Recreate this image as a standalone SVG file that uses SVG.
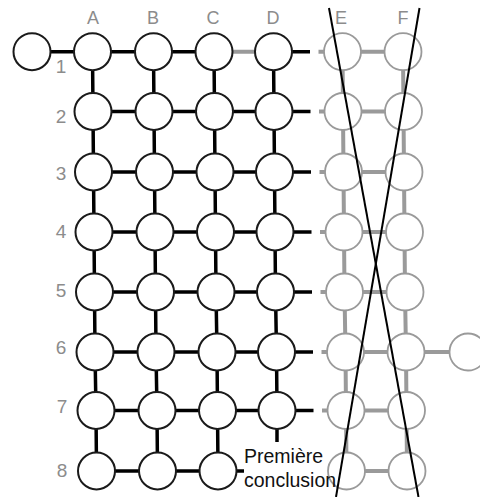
<svg xmlns="http://www.w3.org/2000/svg" width="480" height="497" viewBox="0 0 480 497">
  <style>
    .lbl { font-family: "Liberation Sans", Arial, sans-serif; fill: #8c8c8c; text-anchor: middle; }
    .col { font-size: 18px; }
    .row { font-size: 19px; }
    .note { font-family: "Liberation Sans", Arial, sans-serif; font-size: 19.5px; fill: #111; }
    .nb circle { fill: #fff; stroke: #1a1a1a; stroke-width: 2; }
    .ng circle { fill: #fff; stroke: #9a9a9a; stroke-width: 1.8; }
    .cb { stroke: #000; stroke-width: 3.5; fill: none; }
    .cg { stroke: #9a9a9a; stroke-width: 4; fill: none; }
    .x { stroke: #000; stroke-width: 2; }
  </style>

  <!-- column and row labels -->
  <g id="labels">
    <text class="lbl col" x="93" y="24">A</text>
    <text class="lbl col" x="153" y="24">B</text>
    <text class="lbl col" x="213" y="24">C</text>
    <text class="lbl col" x="273" y="24">D</text>
    <text class="lbl col" x="341" y="24">E</text>
    <text class="lbl col" x="403" y="24">F</text>
    <text class="lbl row" x="61" y="73">1</text>
    <text class="lbl row" x="61" y="122.5">2</text>
    <text class="lbl row" x="61" y="180">3</text>
    <text class="lbl row" x="61" y="238">4</text>
    <text class="lbl row" x="61" y="297">5</text>
    <text class="lbl row" x="61" y="354">6</text>
    <text class="lbl row" x="62" y="413">7</text>
    <text class="lbl row" x="62" y="476.5">8</text>
  </g>

  <!-- connectors -->
  <g id="connectors">
    <!-- row 1 -->
    <line class="cb" x1="32" y1="51.7" x2="92.5" y2="51.7"/>
    <line class="cb" x1="92.5" y1="51.7" x2="214" y2="51.7"/>
    <line class="cg" x1="214" y1="51.7" x2="273.5" y2="51.7"/>
    <line class="cb" x1="273.5" y1="51.7" x2="310" y2="51.7"/>
    <line class="cg" x1="318.5" y1="51.7" x2="403" y2="51.7"/>
    <!-- rows 2..7 horizontals -->
    <line class="cb" x1="93" y1="111.5" x2="310.5" y2="111.5"/>
    <line class="cg" x1="319" y1="111.5" x2="403.5" y2="111.5"/>
    <line class="cb" x1="93.5" y1="172" x2="311" y2="172"/>
    <line class="cg" x1="319.5" y1="172" x2="404" y2="172"/>
    <line class="cb" x1="94" y1="232" x2="311.5" y2="232"/>
    <line class="cg" x1="320" y1="232" x2="404.5" y2="232"/>
    <line class="cb" x1="94.5" y1="292" x2="312" y2="292"/>
    <line class="cg" x1="320.5" y1="292" x2="405" y2="292"/>
    <line class="cb" x1="95" y1="352" x2="313" y2="352"/>
    <line class="cg" x1="321.5" y1="352" x2="468" y2="352"/>
    <line class="cb" x1="96" y1="410.5" x2="313.5" y2="410.5"/>
    <line class="cg" x1="322" y1="410.5" x2="406.5" y2="410.5"/>
    <!-- row 8 -->
    <line class="cb" x1="96.5" y1="471" x2="244" y2="471"/>
    <line class="cg" x1="346.5" y1="471" x2="407" y2="471"/>

    <!-- verticals, columns A..D -->
    <polyline class="cb" points="92.5,51.7 93,111.5 93.5,172 94,232 94.5,292 95,352 96,410.5 96.5,471"/>
    <polyline class="cb" points="153.5,51.7 154,111.5 154.5,172 155,232 155.5,292 156,352 157,410.5 157.5,471"/>
    <polyline class="cb" points="214,51.7 214.5,111.5 215,172 215.5,232 216,292 217,352 217.5,410.5 218,471"/>
    <polyline class="cb" points="273.5,51.7 274,111.5 274.5,172 275,232 275.5,292 276.5,352 277,410.5 277,442"/>
    <!-- verticals, columns E..F -->
    <polyline class="cg" points="342.5,51.7 343,111.5 343.5,172 344,232 344.5,292 345.5,352 346,410.5 346.5,471"/>
    <polyline class="cg" points="403,51.7 403.5,111.5 404,172 404.5,232 405,292 406,352 406.5,410.5 407,471"/>
  </g>

  <!-- nodes -->
  <g id="n-start" class="nb"><circle cx="32" cy="51.7" r="18.5"/></g>

  <g id="n-A1" class="nb"><circle cx="92.5" cy="51.7" r="18.5"/></g>
  <g id="n-B1" class="nb"><circle cx="153.5" cy="51.7" r="18.5"/></g>
  <g id="n-C1" class="nb"><circle cx="214" cy="51.7" r="18.5"/></g>
  <g id="n-D1" class="nb"><circle cx="273.5" cy="51.7" r="18.5"/></g>
  <g id="n-E1" class="ng"><circle cx="342.5" cy="51.7" r="18.5"/></g>
  <g id="n-F1" class="ng"><circle cx="403" cy="51.7" r="18.5"/></g>

  <g id="n-A2" class="nb"><circle cx="93" cy="111.5" r="18.5"/></g>
  <g id="n-B2" class="nb"><circle cx="154" cy="111.5" r="18.5"/></g>
  <g id="n-C2" class="nb"><circle cx="214.5" cy="111.5" r="18.5"/></g>
  <g id="n-D2" class="nb"><circle cx="274" cy="111.5" r="18.5"/></g>
  <g id="n-E2" class="ng"><circle cx="343" cy="111.5" r="18.5"/></g>
  <g id="n-F2" class="ng"><circle cx="403.5" cy="111.5" r="18.5"/></g>

  <g id="n-A3" class="nb"><circle cx="93.5" cy="172" r="18.5"/></g>
  <g id="n-B3" class="nb"><circle cx="154.5" cy="172" r="18.5"/></g>
  <g id="n-C3" class="nb"><circle cx="215" cy="172" r="18.5"/></g>
  <g id="n-D3" class="nb"><circle cx="274.5" cy="172" r="18.5"/></g>
  <g id="n-E3" class="ng"><circle cx="343.5" cy="172" r="18.5"/></g>
  <g id="n-F3" class="ng"><circle cx="404" cy="172" r="18.5"/></g>

  <g id="n-A4" class="nb"><circle cx="94" cy="232" r="18.5"/></g>
  <g id="n-B4" class="nb"><circle cx="155" cy="232" r="18.5"/></g>
  <g id="n-C4" class="nb"><circle cx="215.5" cy="232" r="18.5"/></g>
  <g id="n-D4" class="nb"><circle cx="275" cy="232" r="18.5"/></g>
  <g id="n-E4" class="ng"><circle cx="344" cy="232" r="18.5"/></g>
  <g id="n-F4" class="ng"><circle cx="404.5" cy="232" r="18.5"/></g>

  <g id="n-A5" class="nb"><circle cx="94.5" cy="292" r="18.5"/></g>
  <g id="n-B5" class="nb"><circle cx="155.5" cy="292" r="18.5"/></g>
  <g id="n-C5" class="nb"><circle cx="216" cy="292" r="18.5"/></g>
  <g id="n-D5" class="nb"><circle cx="275.5" cy="292" r="18.5"/></g>
  <g id="n-E5" class="ng"><circle cx="344.5" cy="292" r="18.5"/></g>
  <g id="n-F5" class="ng"><circle cx="405" cy="292" r="18.5"/></g>

  <g id="n-A6" class="nb"><circle cx="95" cy="352" r="18.5"/></g>
  <g id="n-B6" class="nb"><circle cx="156" cy="352" r="18.5"/></g>
  <g id="n-C6" class="nb"><circle cx="217" cy="352" r="18.5"/></g>
  <g id="n-D6" class="nb"><circle cx="276.5" cy="352" r="18.5"/></g>
  <g id="n-E6" class="ng"><circle cx="345.5" cy="352" r="18.5"/></g>
  <g id="n-F6" class="ng"><circle cx="406" cy="352" r="18.5"/></g>
  <g id="n-exit" class="ng"><circle cx="468" cy="352" r="18.5"/></g>

  <g id="n-A7" class="nb"><circle cx="96" cy="410.5" r="18.5"/></g>
  <g id="n-B7" class="nb"><circle cx="157" cy="410.5" r="18.5"/></g>
  <g id="n-C7" class="nb"><circle cx="217.5" cy="410.5" r="18.5"/></g>
  <g id="n-D7" class="nb"><circle cx="277" cy="410.5" r="18.5"/></g>
  <g id="n-E7" class="ng"><circle cx="346" cy="410.5" r="18.5"/></g>
  <g id="n-F7" class="ng"><circle cx="406.5" cy="410.5" r="18.5"/></g>

  <g id="n-A8" class="nb"><circle cx="96.5" cy="471" r="18.5"/></g>
  <g id="n-B8" class="nb"><circle cx="157.5" cy="471" r="18.5"/></g>
  <g id="n-C8" class="nb"><circle cx="218" cy="471" r="18.5"/></g>
  <g id="n-E8" class="ng"><circle cx="346.5" cy="471" r="18.5"/></g>
  <g id="n-F8" class="ng"><circle cx="407" cy="471" r="18.5"/></g>

  <!-- annotation -->
  <g id="note">
    <text class="note" x="244" y="463">Première</text>
    <text class="note" x="244" y="487">conclusion</text>
  </g>

  <!-- crossing strike-out over columns E and F -->
  <g id="cross">
    <line class="x" x1="329" y1="8" x2="418.5" y2="497"/>
    <line class="x" x1="419.5" y1="8" x2="336" y2="497"/>
  </g>
</svg>
